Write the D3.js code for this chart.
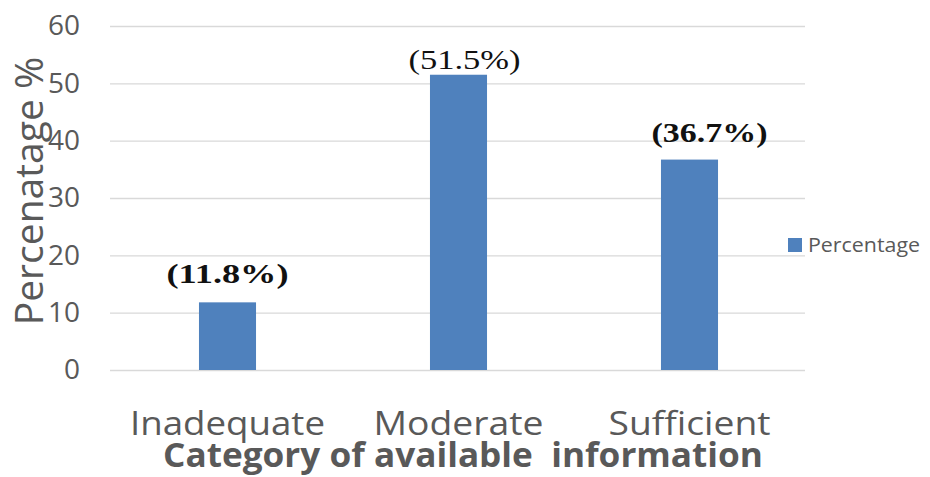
<!DOCTYPE html>
<html><head><meta charset="utf-8">
<script src="https://cdn.jsdelivr.net/npm/d3@7"></script>
<style>body{margin:0;background:#fff}svg{display:block}</style>
</head><body><svg id="c" width="930" height="477"></svg>
<script>
const categories = ["Inadequate", "Moderate", "Sufficient"];
const values = [11.8, 51.5, 36.7];
const dataLabels = ["(11.8%)", "(51.5%)", "(36.7%)"];
const yTicks = [0, 10, 20, 30, 40, 50, 60];
const seriesName = "Percentage";

// style / layout constants
const lblStyle = [
  {dx: 0, y: 283, w: 122, bold: true},
  {dx: 6, y: 69, w: 112, bold: false},
  {dx: 20, y: 142, w: 116, bold: true}
];

const svg = d3.select("#c");
const x = d3.scaleBand().domain(categories).range([112, 805]).paddingInner(0.753).paddingOuter(0.3765);
const y = d3.scaleLinear().domain([0, 60]).range([370, 26]);

const sans = "'Open Sans', sans-serif";
const grid = svg.append("g").attr("transform", "translate(110,0)")
  .call(d3.axisLeft(y).tickValues(yTicks).tickSize(-695).tickPadding(30));
grid.select(".domain").remove();
grid.selectAll(".tick line").attr("stroke", "#d9d9d9").attr("stroke-width", 1.3);
grid.selectAll(".tick text").attr("fill", "#595959").style("font-family", sans).style("font-size", "28px");

svg.append("g").selectAll("rect").data(values).join("rect")
  .attr("x", (d, i) => x(categories[i])).attr("width", x.bandwidth())
  .attr("y", d => y(d)).attr("height", d => y(0) - y(d)).attr("fill", "#4f81bd");

svg.append("g").selectAll("text").data(dataLabels).join("text")
  .attr("x", (d, i) => x(categories[i]) + x.bandwidth() / 2 + lblStyle[i].dx - lblStyle[i].w / 2)
  .attr("y", (d, i) => lblStyle[i].y)
  .attr("textLength", (d, i) => lblStyle[i].w).attr("lengthAdjust", "spacingAndGlyphs")
  .attr("fill", "#111")
  .style("font-family", "'Liberation Serif', serif").style("font-size", "27px")
  .style("font-weight", (d, i) => lblStyle[i].bold ? "bold" : "normal")
  .text(d => d);

const catW = {Inadequate: 195, Moderate: 170, Sufficient: 162};
const xa = svg.append("g");
xa.selectAll("text").data(categories).join("text")
  .attr("x", d => x(d) + x.bandwidth() / 2 - catW[d] / 2).attr("y", 435)
  .attr("textLength", d => catW[d]).attr("lengthAdjust", "spacingAndGlyphs")
  .attr("fill", "#595959").style("font-family", sans).style("font-size", "32px")
  .text(d => d);

svg.append("text").attr("x", 463).attr("y", 467).attr("text-anchor", "middle")
  .attr("fill", "#595959").style("font-family", sans).style("font-size", "34px").style("font-weight", "bold")
  .attr("textLength", 600).attr("lengthAdjust", "spacingAndGlyphs")
  .attr("xml:space", "preserve").text("Category of available  information");

svg.append("text").attr("transform", "translate(43,191) rotate(-90)").attr("text-anchor", "middle")
  .attr("fill", "#595959").style("font-family", sans).style("font-size", "39px")
  .text("Percenatage %");

svg.append("rect").attr("x", 788).attr("y", 238).attr("width", 14).attr("height", 14).attr("fill", "#4f81bd");
svg.append("text").attr("x", 808).attr("y", 252).attr("fill", "#595959")
  .attr("textLength", 112).attr("lengthAdjust", "spacingAndGlyphs")
  .style("font-family", sans).style("font-size", "20px").text(seriesName);
</script></body></html>
